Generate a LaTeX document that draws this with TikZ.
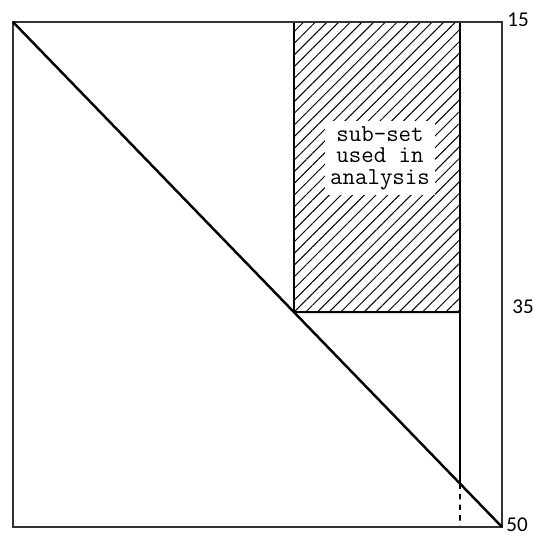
\documentclass[tikz,border=0pt]{standalone}
\usepackage{fontspec}
\newfontfamily\labelfont{Carlito}
\usetikzlibrary{patterns.meta}
\begin{document}
\begin{tikzpicture}[x=0.02cm,y=-0.02cm]
 \useasboundingbox (0,0) rectangle (533,536);
 \coordinate (tl) at (13,22);
 \coordinate (tr) at (502,22);
 \coordinate (br) at (502,527);
 \coordinate (bl) at (13,527);
 \coordinate (ht) at (294,22);
 \coordinate (vt) at (460,22);
 \coordinate (vb) at (460,527);
 \coordinate (hl) at (intersection of tl--br and ht--{294,527});
 \coordinate (hr) at (hl -| vt);
 \coordinate (cut) at (intersection of tl--br and vt--vb);
 % hatched sub-set
 \fill[pattern={Lines[angle=45,distance=4.7pt,line width=.55pt]}] (ht) rectangle (hr);
 \node[fill=white,inner sep=3pt,align=center,
   font=\ttfamily\fontsize{13.8}{12.3}\selectfont] (sub) at (380,158) {sub-set\\used in\\analysis};
 \draw[line width=1.1pt] (ht) -- (hl) -- (hr) -- (vt);
 \draw[line width=1.1pt] (vt) -- (cut);
 \draw[line width=1pt,dash pattern=on 3pt off 3pt] (cut) -- (vb);
 % outer frame and diagonal
 \draw[line width=1.1pt,black!80] (tl) rectangle (br);
 \draw[line width=1.4pt] (tl) -- (br);
 \node[font=\labelfont\fontsize{12}{14}\selectfont,anchor=west,inner sep=0pt] (n15) at (507,20) {15};
 \node[font=\labelfont\fontsize{12}{14}\selectfont,anchor=west,inner sep=0pt] (n35) at (512,307) {35};
 \node[font=\labelfont\fontsize{12}{14}\selectfont,anchor=west,inner sep=0pt] (n50) at (506,525) {50};
\end{tikzpicture}
\end{document}
